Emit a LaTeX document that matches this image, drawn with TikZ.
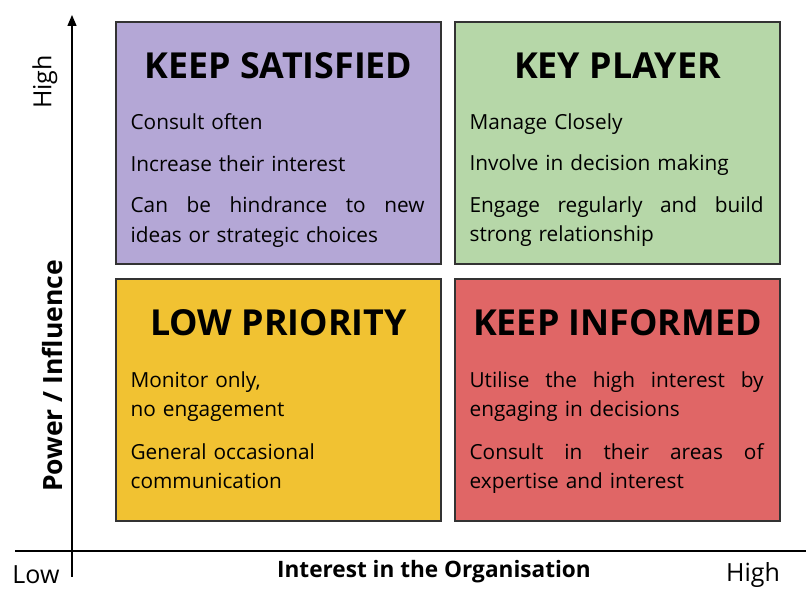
\documentclass[tikz,border=0pt]{standalone}
\usepackage{fontspec}
\setmainfont{Open Sans}
\usetikzlibrary{positioning, arrows.meta}
\definecolor{qpurple}{HTML}{B4A7D6}
\definecolor{qgreen}{HTML}{B6D7A8}
\definecolor{qyellow}{HTML}{F1C232}
\definecolor{qred}{HTML}{E06666}
\newcommand{\spreadline}[1]{{\spaceskip=0pt\xspaceskip=0pt\makebox[294pt][s]{#1}}}
\tikzset{
    quad/.style={draw=black!80, line width=1.2pt, minimum width=325pt, minimum height=242pt, inner sep=0pt},
    quadtitle/.style={font=\bfseries\fontsize{35.8}{40}\selectfont, inner sep=0pt},
    quadtext/.style={anchor=north west, inner sep=0pt, text width=294pt, align=left, font=\fontsize{20.8}{29.5}\selectfont},
    axislabel/.style={font=\fontsize{25}{28}\selectfont, inner sep=0pt},
}

\begin{document}
\begin{tikzpicture}[x=1pt, y=1pt]
    \useasboundingbox (0,0) rectangle (806,589);

    % axes
    \coordinate (ybot) at (72,12);
    \coordinate (ytop) at (72,574);
    \coordinate (xleft) at (15,38);
    \coordinate (xright) at (806,38);
    \draw[line width=1.3pt, -{Triangle[width=9pt, length=11pt]}] (ybot) -- (ytop);
    \draw[line width=1.3pt] (xleft) -- (xright);

    \node[axislabel, rotate=90] (yhigh) at (45,507) {High};
    \node[axislabel, rotate=90, font=\bfseries\fontsize{26.5}{30}\selectfont] (ytitle) at (52,213) {Power / Influence};
    \node[axislabel] (xlow) at (36,14) {Low};
    \node[axislabel] (xhigh) at (753,14) {High};
    \node[axislabel, font=\bfseries\fontsize{22.6}{26}\selectfont] (xtitle) at (434,17) {Interest in the Organisation};

    % quadrants
    \node[quad, fill=qpurple] (sat) at (278.5,446) {};
    \node[quad, fill=qgreen]  (key) at (617.5,446) {};
    \node[quad, fill=qyellow] (low) at (278.5,189) {};
    \node[quad, fill=qred]    (inf) at (617.5,189) {};

    \node[quadtitle] (sattitle) at ([yshift=-44pt]sat.north) {KEEP SATISFIED};
    \node[quadtitle] (keytitle) at ([yshift=-44pt]key.north) {KEY PLAYER};
    \node[quadtitle] (lowtitle) at ([yshift=-44pt]low.north) {LOW PRIORITY};
    \node[quadtitle] (inftitle) at ([yshift=-44pt]inf.north) {KEEP INFORMED};

    \node[quadtext] (sattext) at ([shift={(15pt,-92pt)}]sat.north west)
        {Consult often\\[12pt] Increase their interest\\[12pt] \spreadline{Can be hindrance to new}\\ ideas or strategic choices};
    \node[quadtext] (keytext) at ([shift={(15pt,-92pt)}]key.north west)
        {Manage Closely\\[12pt] Involve in decision making\\[12pt] \spreadline{Engage regularly and build}\\ strong relationship};
    \node[quadtext] (lowtext) at ([shift={(15pt,-93pt)}]low.north west)
        {Monitor only,\\ no engagement\\[13pt] General occasional\\ communication};
    \node[quadtext] (inftext) at ([shift={(15pt,-93pt)}]inf.north west)
        {\spreadline{Utilise the high interest by}\\ engaging in decisions\\[13pt] \spreadline{Consult in their areas of}\\ expertise and interest};
\end{tikzpicture}
\end{document}
